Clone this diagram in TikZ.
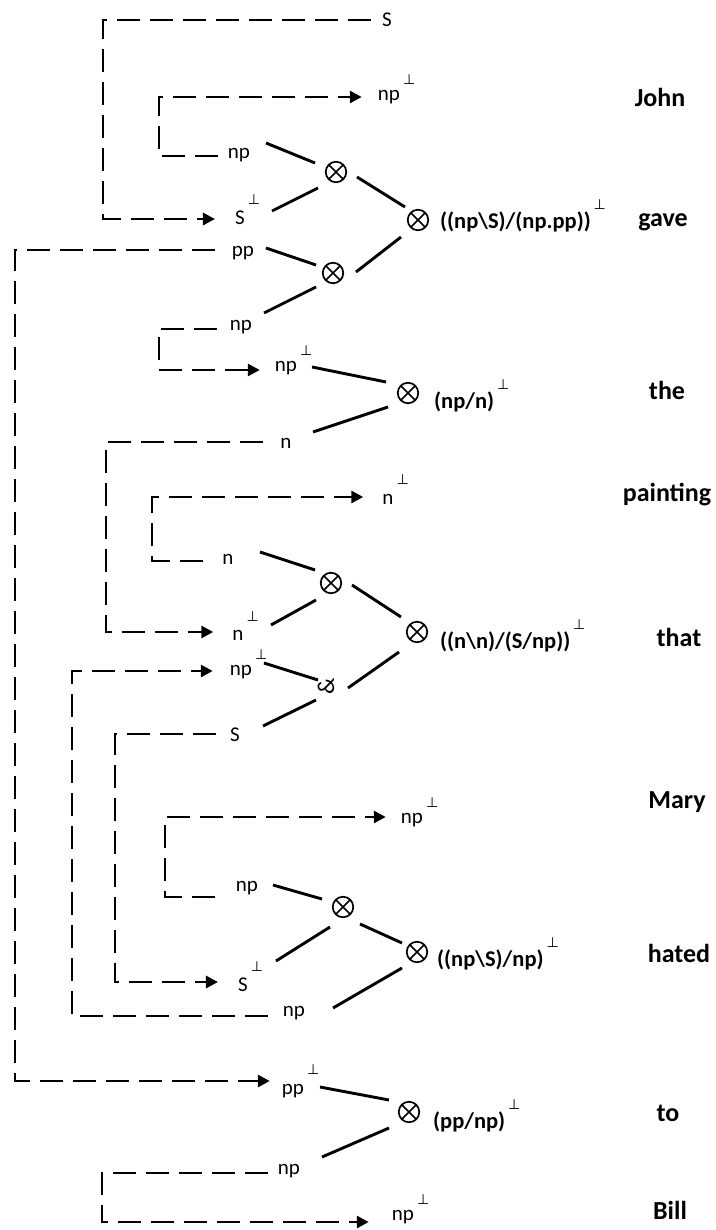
\documentclass[tikz,border=0pt]{standalone}
\usepackage{fontspec}
\setmainfont{Carlito}
\newfontfamily\dvs{DejaVu Sans}
\usepackage{graphicx}
\usetikzlibrary{arrows.meta,calc}
\newcommand\Pe[1][19pt]{\rlap{\kern3pt\raisebox{#1}[0pt][0pt]{\normalfont\dvs\fontsize{14}{14}\selectfont ⊥}}}
\tikzset{
  lab/.style={inner sep=0pt, font=\fontsize{21}{21}\selectfont},
  form/.style={inner sep=0pt, anchor=west, font=\bfseries\fontsize{22.5}{22.5}\selectfont},
  word/.style={inner sep=0pt, font=\bfseries\fontsize{26}{26}\selectfont},
  ox/.style={circle, draw, line width=1.7pt, minimum size=20.5pt, inner sep=0pt,
    path picture={\draw[line width=1.5pt] (path picture bounding box.north west) -- (path picture bounding box.south east)
      (path picture bounding box.north east) -- (path picture bounding box.south west);}},
  dl/.style={line width=2.9pt, dash pattern=on 23pt off 10pt},
  arr/.style={-{Triangle[length=12pt,width=12pt]}},
  sl/.style={line width=2.9pt}
}
\begin{document}
\begin{tikzpicture}[x=1pt,y=-1pt]
\useasboundingbox (0,0) rectangle (715,1230);
% labels
\node[lab] (Stop) at (387,20) {S};
\node[lab] (npJ) at (389,97) {np\Pe[16pt]};
\node[lab] (np1) at (239,155) {np};
\node[lab] (S1) at (240,218) {S\Pe[20pt]};
\node[lab] (pp1) at (243,253) {pp};
\node[lab] (np2) at (241,327) {np};
\node[lab] (np3) at (286,368) {np\Pe[16pt]};
\node[lab] (n1) at (286,443) {n};
\node[lab] (nP) at (388,499) {n\Pe[20pt]};
\node[lab] (n2) at (228,559) {n};
\node[lab] (n3) at (238,635) {n\Pe[19pt]};
\node[lab] (np4) at (241,672) {np\Pe[16pt]};
\node[lab] (S2) at (235,735) {S};
\node[lab] (npM) at (412,820) {np\Pe[16pt]};
\node[lab] (np5) at (247,888) {np};
\node[lab] (S3) at (243,985) {S\Pe[20pt]};
\node[lab] (np6) at (294,1013) {np};
\node[lab] (pp2) at (293,1091) {pp\Pe[20pt]};
\node[lab] (np7) at (289,1171) {np};
\node[lab] (npB) at (403,1217) {np\Pe[16pt]};
% tensor nodes
\node[ox] (o1) at (336,172) {};
\node[ox] (O1) at (418,220) {};
\node[ox] (o2) at (333,273) {};
\node[ox] (O2) at (408,393) {};
\node[ox] (o3) at (331,583) {};
\node[ox] (O3) at (417,632) {};
\node[inner sep=0pt, font=\fontsize{24}{24}\selectfont] (par) at (326,686) {\rotatebox[origin=c]{90}{\&}};
\node[ox] (o4) at (343,907) {};
\node[ox] (O4) at (417,952) {};
\node[ox] (O5) at (409,1112) {};
% formulas
\node[form] (F1) at (440,222) {((np\textbackslash S)/(np.pp))\Pe[19pt]};
\node[form] (F2) at (434,402) {(np/n)\Pe[19pt]};
\node[form] (F3) at (440,642) {((n\textbackslash n)/(S/np))\Pe[19pt]};
\node[form] (F4) at (437,960) {((np\textbackslash S)/np)\Pe[19pt]};
\node[form] (F5) at (433,1122) {(pp/np)\Pe[19pt]};
% words
\node[word] (wJohn) at (660,97) {John};
\node[word] (wgave) at (663,222) {gave};
\node[word] (wthe) at (667,390) {the};
\node[word] (wpainting) at (667,495) {painting};
\node[word] (wthat) at (679,637) {that};
\node[word] (wMary) at (677,802) {Mary};
\node[word] (whated) at (679,953) {hated};
\node[word] (wto) at (668,1113) {to};
\node[word] (wBill) at (670,1210) {Bill};
% corners
\coordinate (k1) at (103,20);
\coordinate (k2) at (159,156);
\coordinate (k3) at (15,250);
\coordinate (k4) at (159,329);
\coordinate (k5) at (106,442);
\coordinate (k6) at (152,561);
\coordinate (k7) at (72,1016);
\coordinate (k8) at (115,734);
\coordinate (k9) at (165,897);
\coordinate (k10) at (102,1173);
% dashed links
\draw[dl,arr] ($(Stop.west)+(-11,0)$) -- (k1) |- ($(S1.west)+(-20,1)$);
\draw[dl,arr] ($(np1.west)+(-10,1)$) -- (k2) |- ($(npJ.west)+(-16,0)$);
\draw[dl,arr] ($(pp1.west)+(-17,-3)$) -- (k3) |- ($(pp2.west)+(-12,-10)$);
\draw[dl,arr] ($(np2.west)+(-13,2)$) -- (k4) |- ($(np3.west)+(-15,2)$);
\draw[dl,arr] ($(n1.west)+(-17,-1)$) -- (k5) |- ($(n3.west)+(-19,-3)$);
\draw[dl,arr] ($(n2.west)+(-19,2)$) -- (k6) |- ($(nP.west)+(-19,-2)$);
\draw[dl,arr] ($(np6.west)+(-15,3)$) -- (k7) |- ($(np4.west)+(-17,-1)$);
\draw[dl,arr] ($(S2.west)+(-14,-1)$) -- (k8) |- ($(S3.west)+(-20,-3)$);
\draw[dl,arr] ($(np5.west)+(-21,9)$) -- (k9) |- ($(npM.west)+(-15,-3)$);
\draw[dl,arr] ($(np7.west)+(-10,2)$) -- (k10) |- ($(npB.west)+(-23,5)$);
% solid links
\draw[sl] ($(np1)+(27,-12)$) -- ($(o1)+(-21,-9)$);
\draw[sl] ($(S1)+(32,-7)$) -- ($(o1)+(-18,16)$);
\draw[sl] ($(o1)+(21,5)$) -- ($(O1)+(-13,-13)$);
\draw[sl] ($(pp1)+(23,-5)$) -- ($(o2)+(-17,-8)$);
\draw[sl] ($(o2)+(23,-1)$) -- ($(O1)+(-17,17)$);
\draw[sl] ($(np2)+(23,-14)$) -- ($(o2)+(-17,14)$);
\draw[sl] ($(np3)+(26,-1)$) -- ($(O2)+(-22,-11)$);
\draw[sl] ($(n1)+(27,-11)$) -- ($(O2)+(-20,14)$);
\draw[sl] ($(n2)+(32,-7)$) -- ($(o3)+(-16,-13)$);
\draw[sl] ($(n3)+(33,-10)$) -- ($(o3)+(-15,17)$);
\draw[sl] ($(o3)+(21,2)$) -- ($(O3)+(-16,-15)$);
\draw[sl] ($(np4)+(23,-9)$) -- ($(par)+(-8,-6)$);
\draw[sl] ($(S2)+(28,-9)$) -- ($(par)+(-10,14)$);
\draw[sl] ($(par)+(22,2)$) -- ($(O3)+(-18,20)$);
\draw[sl] ($(np5)+(26,-3)$) -- ($(o4)+(-21,-8)$);
\draw[sl] ($(S3)+(33,-24)$) -- ($(o4)+(-13,20)$);
\draw[sl] ($(o4)+(17,17)$) -- ($(O4)+(-15,-9)$);
\draw[sl] ($(np6)+(39,-5)$) -- ($(O4)+(-15,16)$);
\draw[sl] ($(pp2)+(27,-4)$) -- ($(O5)+(-20,-12)$);
\draw[sl] ($(np7)+(33,-14)$) -- ($(O5)+(-20,16)$);
\end{tikzpicture}
\end{document}
